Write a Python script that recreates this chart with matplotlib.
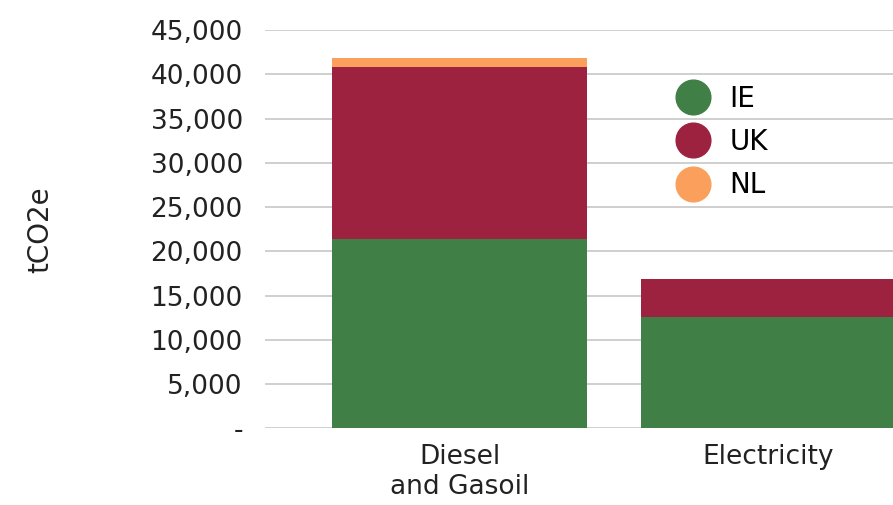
import matplotlib.pyplot as plt
from matplotlib.lines import Line2D
from matplotlib.ticker import FuncFormatter

# data
categories = ['Diesel\nand Gasoil', 'Electricity']
ie = [21400, 12600]
uk = [19470, 4300]
nl = [1020, 0]
series_names = ['IE', 'UK', 'NL']
colors = ['#407F46', '#9D2240', '#FAA05C']

plt.rcParams['font.family'] = 'DejaVu Sans'

fig = plt.figure(figsize=(8.93, 5.05), dpi=100)
ax = fig.add_axes([0.2968, 0.1519, 0.7032, 0.7887])

x = range(len(categories))
w = 0.825
ax.bar(x, ie, w, color=colors[0], zorder=2)
ax.bar(x, uk, w, bottom=ie, color=colors[1], zorder=2)
bottoms = [a + b for a, b in zip(ie, uk)]
ax.bar(x, nl, w, bottom=bottoms, color=colors[2], zorder=2)

ax.set_xlim(-0.63, 1.403)
ax.set_ylim(0, 45000)
ax.set_yticks(range(0, 45001, 5000))
ax.yaxis.set_major_formatter(FuncFormatter(lambda v, p: '-' if v == 0 else f'{int(v):,}'))
ax.set_xticks(list(x))
ax.set_xticklabels(categories, fontsize=19, color='#222222', linespacing=1.2)
ax.tick_params(axis='y', labelsize=19, labelcolor='#222222', length=0, pad=16)
ax.tick_params(axis='x', length=0, pad=11)
ax.grid(axis='y', color='#cccccc', linewidth=1.3, zorder=0)
for s in ax.spines.values():
    s.set_visible(False)

fig.text(0.045, 0.545, 'tCO2e', rotation=90, fontsize=20, color='#222222',
         ha='center', va='center')

handles = [Line2D([], [], marker='o', linestyle='', markersize=25,
                  markerfacecolor=c, markeredgecolor=c) for c in colors]
ax.legend(handles, series_names, loc='upper left', bbox_to_anchor=(0.62, 0.89),
          frameon=False, fontsize=20, labelspacing=0.55, handletextpad=0.3,
          borderaxespad=0)

fig.savefig('out.png', dpi=100)
